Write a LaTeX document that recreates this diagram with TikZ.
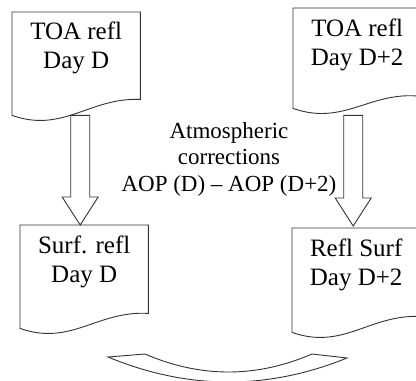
\documentclass[tikz,border=0pt]{standalone}
\usepackage{fontspec}
\setmainfont{Liberation Serif}
\usetikzlibrary{calc}
\tikzset{
  outline/.style={draw=black!80, line width=0.9pt, line join=miter},
  docframe/.style={rectangle, minimum width=128pt, minimum height=103pt, inner sep=0pt, anchor=north west},
  doctext/.style={font=\fontsize{25}{29}\selectfont, align=center, inner sep=0pt, anchor=north},
  midtext/.style={font=\fontsize{23}{26.5}\selectfont, align=center, inner sep=0pt, anchor=north},
}
\newcommand\docoutline[2]{%
  \draw[outline] (#1.south west) -- (#1.north west) -- (#1.north east) -- ($(#1.south east)+(0,-#2)$)
    .. controls ($(#1.south west)!0.6!(#1.south east)+(0,-18)$) and ($(#1.south west)!0.4!(#1.south east)+(0,18)$) .. cycle;
}
\newcommand\blockarr[2]{%
  \draw[outline] ($(#1)+(-9.5,0)$) -- ($(#2)+(-9.5,-28)$) -- ($(#2)+(-18,-28)$) -- (#2)
    -- ($(#2)+(18,-28)$) -- ($(#2)+(9.5,-28)$) -- ($(#1)+(9.5,0)$) -- cycle;
}
\begin{document}
\begin{tikzpicture}[x=1pt,y=-1pt]
  \useasboundingbox (0,0) rectangle (416,381);
  \clip (0,0) rectangle (416,381);

  % documents
  \node[docframe] (A) at (12,12) {};
  \node[docframe, minimum height=100pt] (B) at (293,8) {};
  \node[docframe] (C) at (20,225) {};
  \node[docframe, minimum height=104pt] (D) at (292,228) {};
  \docoutline{A}{16}
  \docoutline{B}{12}
  \docoutline{C}{15}
  \docoutline{D}{16}

  \node[doctext] (At) at ($(A.north)+(0,10)$) {TOA refl\\Day D};
  \node[doctext] (Bt) at ($(B.north)+(0,11)$) {TOA refl\\Day D+2};
  \node[doctext] (Ct) at ($(C.north)+(0,11)$) {Surf. refl\\Day D};
  \node[doctext] (Dt) at ($(D.north)+(0,11)$) {Refl Surf\\Day D+2};

  % block arrows
  \coordinate (m1) at ($(A.south)!0.5!(C.north)$);
  \coordinate (m2) at ($(B.south)!0.5!(D.north)+(-3.5,0)$);
  \coordinate (t1) at (m1 |- A.south);
  \coordinate (p1) at (m1 |- C.north);
  \coordinate (t2) at ($(m2 |- B.south)+(0,7)$);
  \coordinate (p2) at ($(m2 |- D.north)+(0,-2)$);
  \blockarr{t1}{p1}
  \blockarr{t2}{p2}

  % middle label
  \node[midtext] (M) at (229,122) {Atmospheric\\corrections\\AOP (D) – AOP (D+2)};

  % curved band at the bottom
  \draw[outline] (108,357) -- (145,354)
    .. controls (200.7,378) and (256.3,378) .. (312,354)
    -- (347,358)
    .. controls (267.3,390.3) and (187.7,390) .. cycle;
\end{tikzpicture}
\end{document}
